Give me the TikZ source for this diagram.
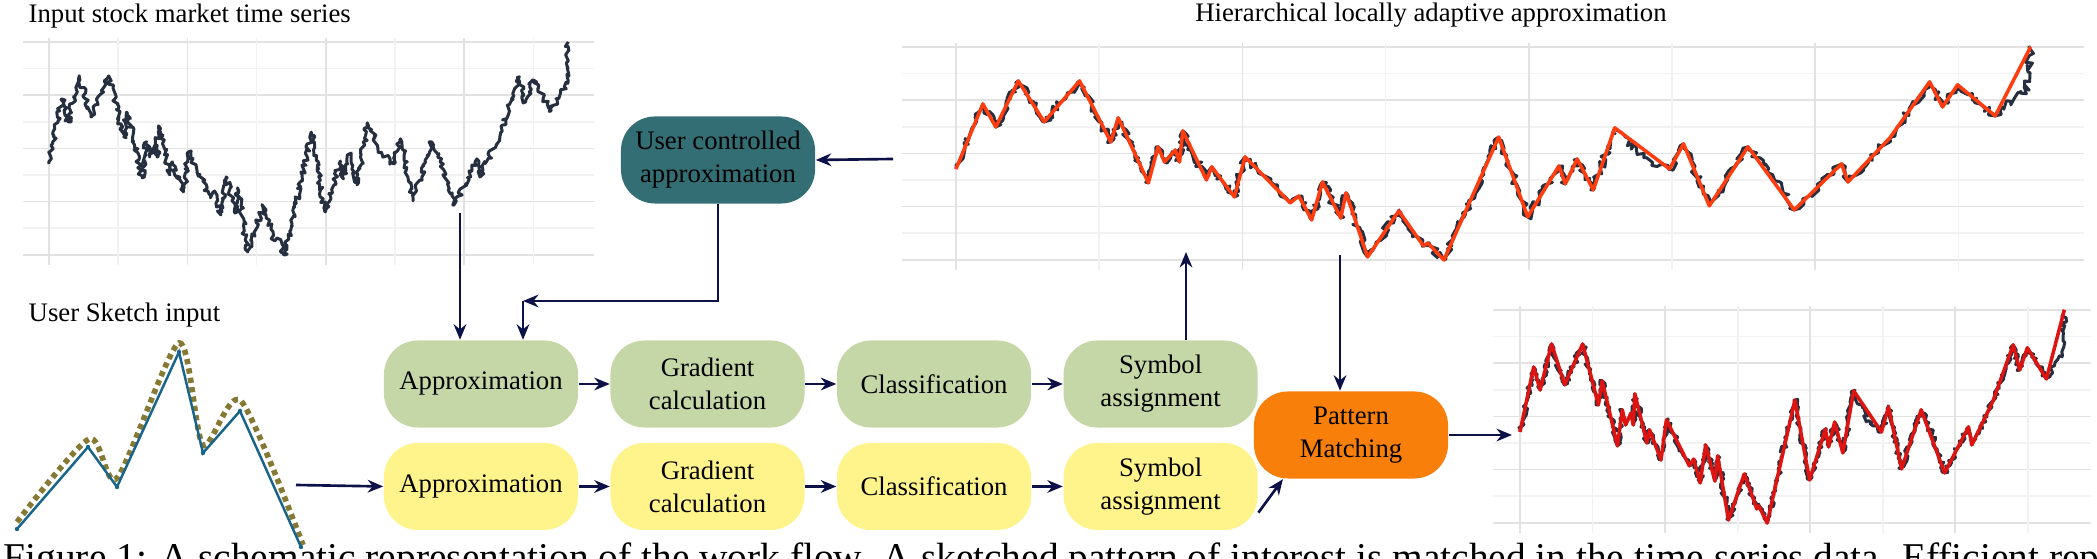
\documentclass[tikz,border=0pt]{standalone}
\usepackage{fontspec}
\setmainfont{Liberation Serif}
\usetikzlibrary{positioning,arrows.meta,decorations.pathmorphing}

\definecolor{boxgreen}{RGB}{197,215,167}
\definecolor{boxyellow}{RGB}{255,244,140}
\definecolor{boxteal}{RGB}{51,110,116}
\definecolor{boxorange}{RGB}{247,127,10}
\definecolor{flowblue}{RGB}{12,17,72}
\definecolor{seriesgray}{RGB}{38,47,63}
\definecolor{approxorange}{RGB}{255,61,14}
\definecolor{approxred}{RGB}{222,20,16}
\definecolor{gridmajor}{RGB}{226,226,226}
\definecolor{gridminor}{RGB}{242,242,242}
\definecolor{sketchblue}{RGB}{25,100,138}
\definecolor{sketcholive}{RGB}{133,121,52}

% t/v pairs of the price series (t from 0 to 1, v from 0 to 1)
\newcommand{\approxdata}{.025/.732, .037/.624, .058/.840, .082/.648, .115/.840, .144/.554, .151/.667, .179/.362, .188/.531, .194/.460, .204/.516, .208/.460, .211/.606, .233/.376, .238/.437, .259/.296, .269/.484, .311/.268, .319/.300, .331/.188, .341/.366, .358/.197, .363/.315, .383/.014, .412/.230, .435/.066, .439/.080, .454/0, .505/.577, .532/.202, .561/.441, .567/.357, .578/.474, .593/.329, .613/.620, .664/.427, .677/.545, .701/.254, .737/.531, .780/.235, .824/.451, .830/.366, .869/.573, .906/.836, .918/.718, .932/.822, .967/.676, 1/1}
\newcommand{\seriesdata}{.025/.732, .037/.624, .058/.840, .082/.648, .115/.840, .144/.554, .151/.667, .179/.362, .188/.531, .194/.460, .204/.516, .208/.460, .211/.606, .233/.376, .238/.437, .259/.296, .269/.484, .311/.268, .319/.300, .331/.188, .341/.366, .358/.197, .363/.315, .383/.014, .412/.230, .435/.066, .439/.080, .454/0, .505/.577, .532/.202, .561/.441, .567/.357, .578/.474, .593/.329, .613/.620, .640/.480, .664/.427, .677/.545, .701/.254, .737/.531, .760/.400, .780/.235, .824/.451, .830/.366, .869/.573, .906/.836, .918/.718, .932/.822, .967/.676, .985/.760, .996/.780, 1/1}

\begin{document}
\begin{tikzpicture}[
			x=0.01cm, y=-0.01cm,
			>={Stealth[length=4.4pt,width=3.6pt]},
			title node/.style={font=\fontsize{7.6}{9.4}\selectfont, inner sep=0pt},
			stage box/.style={rounded corners=0.34cm, minimum width=1.94cm, minimum height=0.87cm, align=center, inner sep=1pt, font=\fontsize{7.6}{9.4}\selectfont},
			top box/.style={stage box, fill=boxgreen},
			bottom box/.style={stage box, fill=boxyellow},
			flow/.style={->, draw=flowblue, line width=0.75pt},
			grid major/.style={draw=gridmajor, line width=0.5pt},
			grid minor/.style={draw=gridminor, line width=0.5pt},
			series line/.style={draw=seriesgray, line width=0.85pt, line join=round, decorate, decoration={random steps, segment length=0.9pt, amplitude=1.1pt}},
			small series/.style={series line, decoration={random steps, segment length=0.7pt, amplitude=0.8pt}},
			approx line/.style={line width=1pt, line join=round}
			]
			\useasboundingbox (0,0) rectangle (2097,559);
			\clip (0,0) rectangle (2097,559);
			\pgfmathsetseed{7}
			\newcommand{\chartgrid}[3]{
				\foreach \k in {0,2,...,8}
					\draw[grid major] (#1-0.05*#2,#3+\k*26.6) -- (#1+1.05*#2,#3+\k*26.6);
				\foreach \k in {1,3,...,7}
					\draw[grid minor] (#1-0.05*#2,#3+\k*26.6) -- (#1+1.05*#2,#3+\k*26.6);
				\foreach \k in {0,2,4,6}
					\draw[grid major] (#1+\k*#2/7.5,#3-4) -- (#1+\k*#2/7.5,#3+223);
				\foreach \k in {1,3,5,7}
					\draw[grid minor] (#1+\k*#2/7.5,#3-4) -- (#1+\k*#2/7.5,#3+223);
			}
			\newcommand{\chartline}[5]{
				\begin{scope}[shift={(#1,#2+213)}, x=#3, y=2.13cm]
					\draw[#4] (0,.427) \foreach \t/\v in #5 {-- (\t,\v)};
				\end{scope}
			}
			
			% titles
			\node[title node, anchor=base west] (InputTitle) at (28,23) {Input stock market time series};
			\node[title node, anchor=base] (HierTitle) at (1431,22) {Hierarchical locally adaptive approximation};
			\node[title node, anchor=base west] (SketchTitle) at (28,322) {User Sketch input};
			
			% charts
			\chartgrid{49}{519}{42}
			\chartline{49}{42}{5.19cm}{small series}{\seriesdata}
			\chartgrid{956}{1074}{47}
			\chartline{956}{47}{10.74cm}{series line}{\seriesdata}
			\chartline{956}{47}{10.74cm}{approx line, draw=approxorange}{\approxdata}
			\chartgrid{1520}{544}{310}
			\chartline{1520}{310}{5.44cm}{small series}{\seriesdata}
			\chartline{1520}{310}{5.44cm}{approx line, draw=approxred}{\approxdata}
			
			% sketch
			\draw[sketcholive, line width=1.6pt, dash pattern=on 1.5pt off 1.2pt] plot[smooth, tension=0.45] coordinates {(17,522) (89,439) (117,478) (179,343) (203,445) (241,401) (303,545)};
			\draw[sketchblue, line width=0.7pt] (17,529) -- (88,447) -- (117,487) -- (179,352) -- (203,453) -- (240,411) -- (301,547);
			\foreach \p in {(17,529),(88,447),(117,487),(179,352),(203,453),(240,411),(301,547)}
				\fill[sketchblue] \p circle (2.2);
			
			% boxes
			\node[stage box, fill=boxteal] (UserBox) at (718,160) {User controlled\\approximation};
			\node[top box] (ApproxTop) at (481,384) {Approximation};
			\node[top box, right=0.31cm of ApproxTop] (GradTop) {Gradient\\calculation};
			\node[top box, right=0.31cm of GradTop] (ClassTop) {Classification};
			\node[top box, right=0.31cm of ClassTop] (SymTop) {Symbol\\assignment};
			\node[bottom box, below=0.14cm of ApproxTop] (ApproxBot) {Approximation};
			\node[bottom box, right=0.31cm of ApproxBot] (GradBot) {Gradient\\calculation};
			\node[bottom box, right=0.31cm of GradBot] (ClassBot) {Classification};
			\node[bottom box, right=0.31cm of ClassBot] (SymBot) {Symbol\\assignment};
			\node[stage box, fill=boxorange] (Match) at (1351,435) {Pattern\\Matching};
			
			\coordinate (ChartOneOut) at (460,213);
			\coordinate (ChartTwoOut) at (893,159);
			\coordinate (ChartTwoIn) at (1186,252);
			\coordinate (ChartTwoDown) at (1340,255);
			\coordinate (ChartThreeIn) at (1512,435);
			\coordinate (SketchOut) at (296,485);
			\coordinate (UserTurn) at (523,301);
			
			% connectors
			\draw[flow] (ChartOneOut) -- (ChartOneOut |- ApproxTop.north);
			\draw[flow] (ChartTwoOut) -- (UserBox.east);
			\draw[flow] (UserBox.south) |- (UserTurn);
			\draw[flow] (UserTurn) -- (UserTurn |- ApproxTop.north);
			\draw[flow] (SketchOut) -- (ApproxBot.west);
			\foreach \a/\b in {ApproxTop/GradTop, GradTop/ClassTop, ClassTop/SymTop, ApproxBot/GradBot, GradBot/ClassBot, ClassBot/SymBot}
				\draw[flow] (\a) -- (\b);
			\draw[flow] (ChartTwoIn |- SymTop.north) -- (ChartTwoIn);
			\draw[flow] (ChartTwoDown) -- (ChartTwoDown |- Match.north);
			\draw[flow] (SymBot.-15) -- (Match.213);
			\draw[flow] (Match) -- (ChartThreeIn);
			
			% caption, cut by the lower edge
			\node[anchor=base west, inner sep=0pt, font=\fontsize{11.2}{13}\selectfont] (Caption) at (3,571) {Figure 1: A schematic representation of the work flow. A sketched pattern of interest is matched in the time series data. Efficient representation is};
		\end{tikzpicture}
\end{document}
